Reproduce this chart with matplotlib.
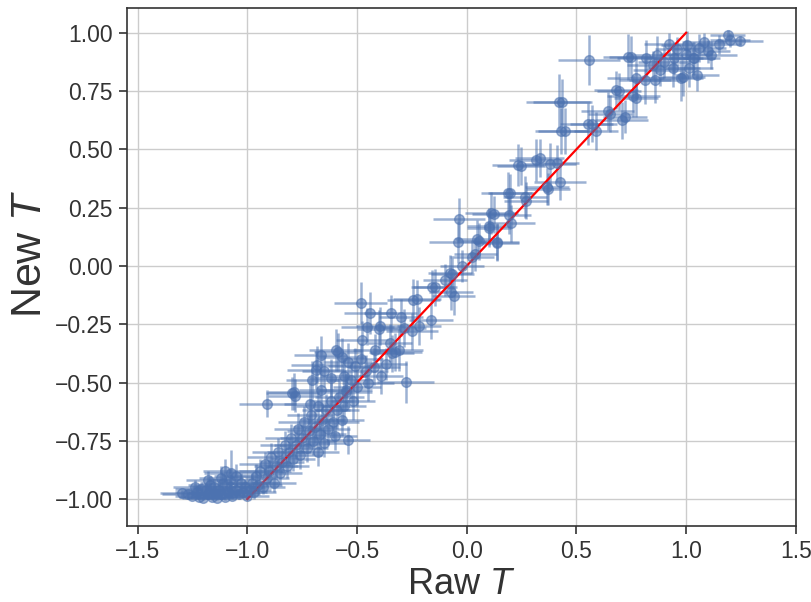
import matplotlib
matplotlib.use('Agg')
import matplotlib.pyplot as plt

# raw T, new T, error on raw, error on new
raw_t = [
    -1.30, -1.27, -1.25, -1.23, -1.22, -1.20, -1.19, -1.18, -1.17, -1.16,
    -1.15, -1.14, -1.13, -1.12, -1.11, -1.10, -1.09, -1.08, -1.07, -1.076,
    -1.05, -1.04, -1.03, -1.02, -1.01, -1.00, -1.12, -1.15, -1.08, -1.18,
    -1.21, -1.24, -1.10, -1.05,
    -0.99, -0.98, -0.97, -0.96, -0.95, -0.94, -0.93, -0.92, -0.91, -0.90,
    -0.89, -0.88, -0.87, -0.86, -0.85, -0.84, -0.83, -0.82, -0.81, -0.80,
    -0.79, -0.78, -0.77, -0.76, -0.75, -0.74, -0.73, -0.72, -0.71, -0.70,
    -0.69, -0.68, -0.67, -0.66, -0.65, -0.64, -0.63, -0.62, -0.61, -0.60,
    -0.59, -0.58, -0.57, -0.56, -0.55, -0.54, -0.52, -0.50,
    -0.909, -0.795, -0.714, -0.784, -0.68,
    -0.787, -0.704, -0.689, -0.666, -0.650, -0.666, -0.597, -0.57, -0.552, -0.529,
    -0.45, -0.483, -0.441, -0.395, -0.453, -0.476, -0.347, -0.30, -0.243, -0.218,
    -0.309, -0.339, -0.423, -0.39, -0.278, -0.587, -0.682, -0.40, -0.285, -0.326,
    -0.37, -0.46, -0.51, -0.62, -0.56, -0.35, -0.25, -0.42, -0.54, -0.48,
    -0.226, -0.156, -0.143, -0.163, -0.076, -0.07, -0.065, -0.06, -0.035, -0.040,
    0.026, 0.046, 0.054, 0.04, 0.102, 0.113, 0.125, 0.137, 0.10, 0.14,
    0.186, 0.193, 0.201, 0.234, 0.249, 0.264, 0.27, 0.315, 0.332, 0.380,
    0.41, 0.368, 0.425, 0.37, 0.197, -0.02, -0.10,
    0.421, 0.434, 0.432, 0.446, 0.555, 0.569, 0.588, 0.557, 0.642, 0.652,
    0.707, 0.72, 0.679, 0.693, 0.759, 0.771, 0.737, 0.747, 0.771, 0.812,
    0.859, 0.816, 0.866, 0.90, 0.942, 0.946, 0.976, 1.006, 1.014, 1.036,
    1.06, 1.113, 1.189, 1.245, 1.05, 1.08, 1.00, 0.88, 0.96, 1.15,
    1.20, 0.92, 0.85, 1.10, 0.985, 1.03,
]
new_t = [
    -0.975, -0.98, -0.985, -0.97, -0.99, -0.995, -0.96, -0.98, -0.94, -0.99,
    -0.975, -0.995, -0.96, -0.98, -0.93, -0.99, -0.97, -0.95, -0.985, -0.888,
    -0.96, -0.98, -0.93, -0.97, -0.95, -0.985, -0.91, -0.95, -0.92, -0.92,
    -0.955, -0.95, -0.88, -0.90,
    -0.96, -0.93, -0.97, -0.90, -0.94, -0.88, -0.95, -0.85, -0.91, -0.88,
    -0.82, -0.93, -0.86, -0.80, -0.89, -0.84, -0.77, -0.86, -0.80, -0.74,
    -0.83, -0.77, -0.70, -0.81, -0.74, -0.67, -0.78, -0.71, -0.64, -0.75,
    -0.69, -0.80, -0.72, -0.66, -0.76, -0.62, -0.70, -0.58, -0.67, -0.73,
    -0.62, -0.56, -0.66, -0.60, -0.54, -0.745, -0.58, -0.52,
    -0.590, -0.546, -0.592, -0.556, -0.60,
    -0.539, -0.489, -0.446, -0.382, -0.45, -0.53, -0.361, -0.39, -0.532, -0.489,
    -0.50, -0.160, -0.203, -0.258, -0.260, -0.318, -0.203, -0.22, -0.146, -0.258,
    -0.361, -0.375, -0.432, -0.47, -0.497, -0.369, -0.424, -0.27, -0.266, -0.369,
    -0.42, -0.45, -0.43, -0.48, -0.47, -0.33, -0.28, -0.36, -0.41, -0.40,
    -0.142, -0.089, -0.092, -0.233, -0.031, -0.11, -0.034, -0.13, 0.200, 0.104,
    0.040, 0.115, 0.106, 0.05, 0.162, 0.226, 0.222, 0.104, 0.17, 0.10,
    0.312, 0.219, 0.183, 0.433, 0.429, 0.297, 0.28, 0.455, 0.463, 0.438,
    0.44, 0.340, 0.362, 0.33, 0.313, 0.0, -0.06,
    0.705, 0.703, 0.579, 0.579, 0.610, 0.61, 0.579, 0.884, 0.665, 0.653,
    0.625, 0.64, 0.754, 0.749, 0.727, 0.719, 0.896, 0.898, 0.806, 0.796,
    0.799, 0.891, 0.906, 0.876, 0.848, 0.891, 0.806, 0.948, 0.848, 0.89,
    0.934, 0.906, 0.99, 0.966, 0.82, 0.96, 0.91, 0.84, 0.93, 0.95,
    0.97, 0.95, 0.86, 0.92, 0.81, 0.89,
]
raw_err = [
    0.10, 0.12, 0.08, 0.10, 0.09, 0.10, 0.10, 0.08, 0.10, 0.10,
    0.12, 0.09, 0.10, 0.11, 0.10, 0.10, 0.12, 0.10, 0.09, 0.12,
    0.10, 0.10, 0.10, 0.11, 0.09, 0.10, 0.10, 0.10, 0.10, 0.10,
    0.12, 0.10, 0.10, 0.10,
    0.10, 0.12, 0.10, 0.10, 0.11, 0.10, 0.10, 0.12, 0.10, 0.10,
    0.11, 0.10, 0.10, 0.12, 0.10, 0.10, 0.11, 0.10, 0.10, 0.12,
    0.10, 0.10, 0.11, 0.10, 0.10, 0.12, 0.10, 0.10, 0.11, 0.10,
    0.10, 0.10, 0.12, 0.10, 0.10, 0.11, 0.10, 0.10, 0.12, 0.10,
    0.10, 0.11, 0.10, 0.10, 0.12, 0.10, 0.10, 0.11,
    0.13, 0.12, 0.12, 0.12, 0.10,
    0.12, 0.12, 0.13, 0.12, 0.10, 0.10, 0.12, 0.11, 0.12, 0.10,
    0.12, 0.12, 0.12, 0.11, 0.12, 0.12, 0.12, 0.10, 0.12, 0.10,
    0.11, 0.10, 0.12, 0.10, 0.13, 0.11, 0.12, 0.10, 0.10, 0.12,
    0.10, 0.10, 0.12, 0.10, 0.11, 0.10, 0.12, 0.10, 0.11, 0.10,
    0.11, 0.10, 0.10, 0.10, 0.10, 0.10, 0.10, 0.10, 0.12, 0.13,
    0.10, 0.10, 0.10, 0.10, 0.10, 0.12, 0.10, 0.10, 0.10, 0.10,
    0.12, 0.10, 0.11, 0.12, 0.11, 0.10, 0.10, 0.12, 0.11, 0.12,
    0.10, 0.10, 0.12, 0.10, 0.10, 0.10, 0.10,
    0.15, 0.13, 0.12, 0.12, 0.13, 0.10, 0.10, 0.14, 0.12, 0.10,
    0.12, 0.10, 0.10, 0.10, 0.12, 0.10, 0.114, 0.10, 0.13, 0.12,
    0.12, 0.13, 0.12, 0.12, 0.12, 0.13, 0.10, 0.12, 0.11, 0.12,
    0.12, 0.12, 0.08, 0.105, 0.10, 0.10, 0.12, 0.12, 0.10, 0.10,
    0.09, 0.11, 0.12, 0.10, 0.10, 0.10,
]
new_err = [
    0.015, 0.02, 0.015, 0.03, 0.01, 0.01, 0.03, 0.02, 0.04, 0.015,
    0.02, 0.01, 0.03, 0.02, 0.04, 0.015, 0.02, 0.03, 0.015, 0.10,
    0.03, 0.02, 0.04, 0.02, 0.03, 0.015, 0.05, 0.04, 0.05, 0.04,
    0.03, 0.03, 0.05, 0.05,
    0.03, 0.04, 0.03, 0.05, 0.04, 0.05, 0.03, 0.05, 0.04, 0.05,
    0.06, 0.04, 0.05, 0.06, 0.05, 0.05, 0.06, 0.05, 0.06, 0.06,
    0.05, 0.06, 0.07, 0.06, 0.06, 0.07, 0.06, 0.07, 0.07, 0.06,
    0.07, 0.06, 0.07, 0.07, 0.06, 0.07, 0.07, 0.08, 0.07, 0.06,
    0.08, 0.08, 0.07, 0.08, 0.08, 0.06, 0.08, 0.08,
    0.06, 0.07, 0.10, 0.07, 0.08,
    0.08, 0.08, 0.08, 0.08, 0.07, 0.07, 0.09, 0.08, 0.07, 0.08,
    0.08, 0.09, 0.09, 0.08, 0.08, 0.08, 0.08, 0.08, 0.09, 0.08,
    0.09, 0.08, 0.08, 0.08, 0.09, 0.08, 0.08, 0.08, 0.08, 0.08,
    0.07, 0.07, 0.08, 0.08, 0.07, 0.08, 0.08, 0.07, 0.08, 0.07,
    0.08, 0.07, 0.08, 0.08, 0.08, 0.08, 0.07, 0.08, 0.09, 0.09,
    0.07, 0.08, 0.08, 0.07, 0.08, 0.09, 0.08, 0.08, 0.08, 0.08,
    0.09, 0.08, 0.08, 0.09, 0.08, 0.09, 0.08, 0.09, 0.08, 0.09,
    0.08, 0.08, 0.08, 0.07, 0.08, 0.07, 0.07,
    0.12, 0.10, 0.10, 0.10, 0.09, 0.08, 0.08, 0.107, 0.08, 0.08,
    0.08, 0.07, 0.08, 0.08, 0.09, 0.08, 0.098, 0.09, 0.09, 0.10,
    0.10, 0.08, 0.08, 0.07, 0.08, 0.07, 0.10, 0.06, 0.08, 0.07,
    0.06, 0.06, 0.02, 0.02, 0.07, 0.04, 0.06, 0.07, 0.05, 0.04,
    0.03, 0.05, 0.06, 0.05, 0.08, 0.07,
]

# identity reference line
line_x = [-1.0, 1.0]
line_y = [-1.0, 1.0]

plt.rcParams['font.family'] = ['Liberation Sans', 'DejaVu Sans']
plt.rcParams['mathtext.fontset'] = 'custom'
plt.rcParams['mathtext.rm'] = 'Liberation Sans'
plt.rcParams['mathtext.it'] = 'Liberation Sans:italic'

fig = plt.figure(figsize=(8.12, 6.02), dpi=100)
ax = fig.add_axes([0.156, 0.126, 0.824, 0.861])

ax.grid(True, color='#cccccc', linewidth=1.0)
ax.set_axisbelow(True)

ax.errorbar(raw_t, new_t, xerr=raw_err, yerr=new_err, fmt='o',
            color='#4C72B0', ecolor='#4C72B0', alpha=0.55,
            markersize=7, elinewidth=1.8, capsize=0)
ax.plot(line_x, line_y, color='red', linewidth=1.6)

ax.set_xlim(-1.55, 1.5)
ax.set_ylim(-1.116, 1.107)
ax.set_xticks([-1.5, -1.0, -0.5, 0.0, 0.5, 1.0, 1.5])
ax.set_yticks([-1.0, -0.75, -0.5, -0.25, 0.0, 0.25, 0.5, 0.75, 1.0])
ax.set_yticklabels(['\u22121.00', '\u22120.75', '\u22120.50', '\u22120.25',
                    '0.00', '0.25', '0.50', '0.75', '1.00'])
ax.set_xticklabels(['\u22121.5', '\u22121.0', '\u22120.5', '0.0',
                    '0.5', '1.0', '1.5'])
ax.tick_params(direction='out', length=6, width=1.2, color='#333333',
               labelsize=16.5, labelcolor='#333333', pad=4)
for s in ax.spines.values():
    s.set_color('#333333')
    s.set_linewidth(1.2)

ax.set_xlabel('Raw $T$', fontsize=26, color='#333333', labelpad=3)
ax.set_ylabel('New $T$', fontsize=31, color='#333333')
ax.yaxis.set_label_coords(-0.115, 0.525)

fig.savefig('out.png', dpi=100)
